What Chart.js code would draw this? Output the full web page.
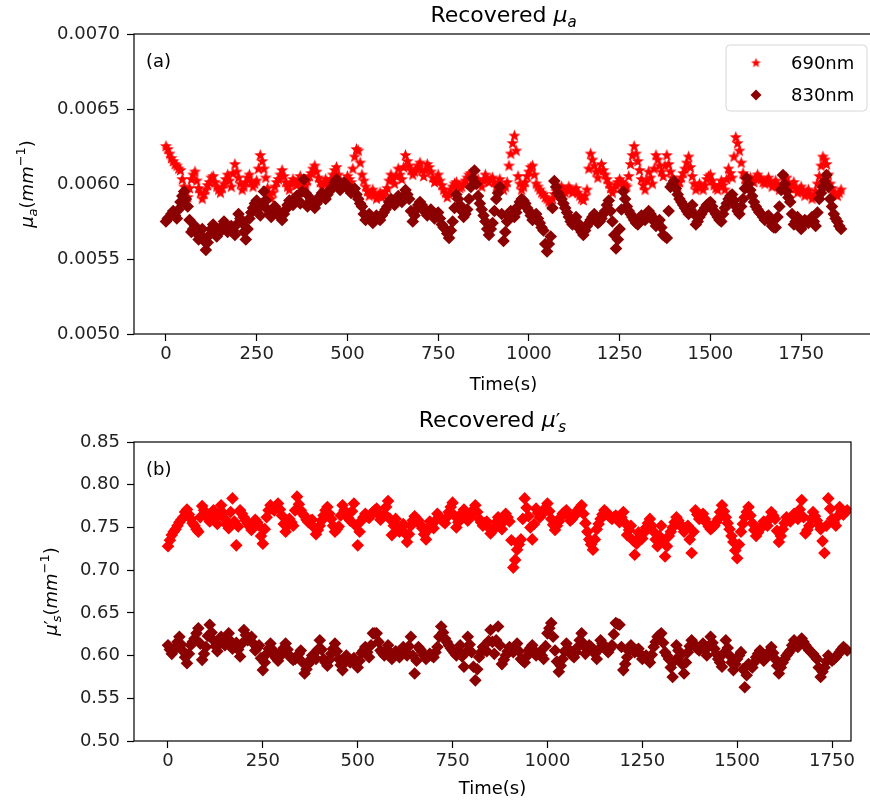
<!DOCTYPE html>
<html lang="en">
<head>
  <meta charset="UTF-8">
  <title>Recovered optical properties</title>
  <script src="https://cdn.jsdelivr.net/npm/chart.js"></script>
  <style>
    body { margin: 0; background: #fff; overflow: hidden; }
    #wrap { position: relative; width: 870px; height: 807px; overflow: hidden; }
    #topBox { position: absolute; left: 0; top: 0; }
    #botBox { position: absolute; left: 0; top: 400px; }
  </style>
</head>
<body>
  <div id="wrap">
    <div id="topBox"><canvas id="muaChart" width="880" height="400"></canvas></div>
    <div id="botBox"><canvas id="musChart" width="870" height="407"></canvas></div>
  </div>
  <script>
    // sample times (s)
    const timeS = [
      0, 5, 10, 15, 20, 25, 30, 35, 40, 45, 50, 55, 60, 65, 70, 75, 80, 85, 90, 95,
      100, 105, 110, 115, 120, 125, 130, 135, 140, 145, 150, 155, 160, 165, 170, 175, 180, 185, 190, 195,
      200, 205, 210, 215, 220, 225, 230, 235, 240, 245, 250, 255, 260, 265, 270, 275, 280, 285, 290, 295,
      300, 305, 310, 315, 320, 325, 330, 335, 340, 345, 350, 355, 360, 365, 370, 375, 380, 385, 390, 395,
      400, 405, 410, 415, 420, 425, 430, 435, 440, 445, 450, 455, 460, 465, 470, 475, 480, 485, 490, 495,
      500, 505, 510, 515, 520, 525, 530, 535, 540, 545, 550, 555, 560, 565, 570, 575, 580, 585, 590, 595,
      600, 605, 610, 615, 620, 625, 630, 635, 640, 645, 650, 655, 660, 665, 670, 675, 680, 685, 690, 695,
      700, 705, 710, 715, 720, 725, 730, 735, 740, 745, 750, 755, 760, 765, 770, 775, 780, 785, 790, 795,
      800, 805, 810, 815, 820, 825, 830, 835, 840, 845, 850, 855, 860, 865, 870, 875, 880, 885, 890, 895,
      900, 905, 910, 915, 920, 925, 930, 935, 940, 945, 950, 955, 960, 965, 970, 975, 980, 985, 990, 995,
      1000, 1005, 1010, 1015, 1020, 1025, 1030, 1035, 1040, 1045, 1050, 1055, 1060, 1065, 1070, 1075, 1080, 1085, 1090, 1095,
      1100, 1105, 1110, 1115, 1120, 1125, 1130, 1135, 1140, 1145, 1150, 1155, 1160, 1165, 1170, 1175, 1180, 1185, 1190, 1195,
      1200, 1205, 1210, 1215, 1220, 1225, 1230, 1235, 1240, 1245, 1250, 1255, 1260, 1265, 1270, 1275, 1280, 1285, 1290, 1295,
      1300, 1305, 1310, 1315, 1320, 1325, 1330, 1335, 1340, 1345, 1350, 1355, 1360, 1365, 1370, 1375, 1380, 1385, 1390, 1395,
      1400, 1405, 1410, 1415, 1420, 1425, 1430, 1435, 1440, 1445, 1450, 1455, 1460, 1465, 1470, 1475, 1480, 1485, 1490, 1495,
      1500, 1505, 1510, 1515, 1520, 1525, 1530, 1535, 1540, 1545, 1550, 1555, 1560, 1565, 1570, 1575, 1580, 1585, 1590, 1595,
      1600, 1605, 1610, 1615, 1620, 1625, 1630, 1635, 1640, 1645, 1650, 1655, 1660, 1665, 1670, 1675, 1680, 1685, 1690, 1695,
      1700, 1705, 1710, 1715, 1720, 1725, 1730, 1735, 1740, 1745, 1750, 1755, 1760, 1765, 1770, 1775, 1780, 1785, 1790, 1795,
      1800, 1805, 1810, 1815, 1820, 1825, 1830, 1835, 1840, 1845, 1850, 1855, 1860
    ];

    // (a) recovered mu_a (mm^-1), 0 .. 1860 s
    const mua690 = [
      0.00625, 0.00623, 0.00620, 0.00617, 0.00615, 0.00613, 0.00612, 0.00610, 0.00609, 0.00603, 0.00598, 0.00594, 0.00591, 0.00597, 0.00603, 0.00606, 0.00608, 0.00602, 0.00597, 0.00594,
      0.00590, 0.00593, 0.00596, 0.00599, 0.00601, 0.00604, 0.00605, 0.00601, 0.00598, 0.00596, 0.00594, 0.00597, 0.00600, 0.00603, 0.00606, 0.00602, 0.00598, 0.00607, 0.00613, 0.00608,
      0.00604, 0.00600, 0.00596, 0.00598, 0.00601, 0.00604, 0.00606, 0.00601, 0.00598, 0.00600, 0.00602, 0.00610, 0.00619, 0.00615, 0.00610, 0.00604, 0.00597, 0.00593, 0.00590, 0.00594,
      0.00598, 0.00601, 0.00603, 0.00606, 0.00609, 0.00605, 0.00601, 0.00598, 0.00596, 0.00600, 0.00603, 0.00601, 0.00599, 0.00602, 0.00605, 0.00600, 0.00597, 0.00599, 0.00602, 0.00605,
      0.00607, 0.00610, 0.00612, 0.00608, 0.00604, 0.00601, 0.00598, 0.00600, 0.00603, 0.00601, 0.00600, 0.00603, 0.00606, 0.00609, 0.00611, 0.00606, 0.00602, 0.00599, 0.00597, 0.00601,
      0.00605, 0.00603, 0.00601, 0.00610, 0.00618, 0.00623, 0.00622, 0.00614, 0.00606, 0.00602, 0.00598, 0.00595, 0.00592, 0.00594, 0.00596, 0.00593, 0.00590, 0.00592, 0.00594, 0.00591,
      0.00592, 0.00595, 0.00597, 0.00602, 0.00606, 0.00603, 0.00600, 0.00605, 0.00610, 0.00606, 0.00603, 0.00611, 0.00619, 0.00615, 0.00612, 0.00609, 0.00606, 0.00608, 0.00610, 0.00612,
      0.00614, 0.00609, 0.00605, 0.00609, 0.00613, 0.00611, 0.00608, 0.00604, 0.00601, 0.00603, 0.00606, 0.00602, 0.00599, 0.00596, 0.00594, 0.00591, 0.00593, 0.00596, 0.00598, 0.00600,
      0.00601, 0.00599, 0.00597, 0.00598, 0.00600, 0.00602, 0.00604, 0.00606, 0.00607, 0.00603, 0.00600, 0.00602, 0.00603, 0.00600, 0.00598, 0.00602, 0.00606, 0.00603, 0.00601, 0.00603,
      0.00604, 0.00601, 0.00598, 0.00600, 0.00603, 0.00599, 0.00596, 0.00598, 0.00601, 0.00612, 0.00620, 0.00627, 0.00632, 0.00622, 0.00605, 0.00600, 0.00596, 0.00598, 0.00601, 0.00605,
      0.00608, 0.00611, 0.00612, 0.00606, 0.00600, 0.00598, 0.00596, 0.00594, 0.00593, 0.00591, 0.00590, 0.00588, 0.00586, 0.00590, 0.00593, 0.00595, 0.00596, 0.00597, 0.00598, 0.00596,
      0.00594, 0.00596, 0.00598, 0.00596, 0.00594, 0.00595, 0.00597, 0.00594, 0.00592, 0.00590, 0.00589, 0.00592, 0.00596, 0.00610, 0.00620, 0.00616, 0.00612, 0.00608, 0.00604, 0.00609,
      0.00613, 0.00609, 0.00606, 0.00603, 0.00600, 0.00597, 0.00594, 0.00597, 0.00599, 0.00601, 0.00603, 0.00601, 0.00600, 0.00599, 0.00598, 0.00605, 0.00613, 0.00619, 0.00625, 0.00620,
      0.00615, 0.00609, 0.00603, 0.00599, 0.00596, 0.00602, 0.00608, 0.00604, 0.00600, 0.00610, 0.00619, 0.00616, 0.00612, 0.00608, 0.00605, 0.00612, 0.00619, 0.00613, 0.00608, 0.00604,
      0.00600, 0.00599, 0.00598, 0.00601, 0.00604, 0.00607, 0.00610, 0.00614, 0.00618, 0.00611, 0.00605, 0.00600, 0.00596, 0.00598, 0.00600, 0.00598, 0.00596, 0.00599, 0.00603, 0.00605,
      0.00606, 0.00602, 0.00599, 0.00597, 0.00596, 0.00599, 0.00602, 0.00599, 0.00596, 0.00603, 0.00610, 0.00607, 0.00604, 0.00618, 0.00631, 0.00627, 0.00622, 0.00614, 0.00607, 0.00603,
      0.00600, 0.00602, 0.00604, 0.00602, 0.00601, 0.00604, 0.00606, 0.00604, 0.00603, 0.00601, 0.00600, 0.00602, 0.00604, 0.00601, 0.00598, 0.00600, 0.00602, 0.00599, 0.00596, 0.00598,
      0.00600, 0.00602, 0.00604, 0.00600, 0.00597, 0.00599, 0.00601, 0.00597, 0.00594, 0.00596, 0.00598, 0.00595, 0.00592, 0.00594, 0.00596, 0.00593, 0.00590, 0.00592, 0.00595, 0.00600,
      0.00605, 0.00612, 0.00618, 0.00616, 0.00613, 0.00606, 0.00600, 0.00597, 0.00594, 0.00593, 0.00592, 0.00594, 0.00596
    ];
    const mua830 = [
      0.00575, 0.00577, 0.00578, 0.00580, 0.00582, 0.00579, 0.00577, 0.00583, 0.00588, 0.00592, 0.00595, 0.00590, 0.00585, 0.00576, 0.00568, 0.00570, 0.00572, 0.00567, 0.00563, 0.00566,
      0.00570, 0.00562, 0.00556, 0.00561, 0.00566, 0.00570, 0.00573, 0.00569, 0.00565, 0.00567, 0.00569, 0.00572, 0.00575, 0.00571, 0.00568, 0.00570, 0.00572, 0.00569, 0.00566, 0.00573,
      0.00580, 0.00577, 0.00574, 0.00568, 0.00563, 0.00570, 0.00577, 0.00581, 0.00584, 0.00587, 0.00589, 0.00584, 0.00579, 0.00587, 0.00595, 0.00589, 0.00583, 0.00580, 0.00578, 0.00582,
      0.00585, 0.00583, 0.00581, 0.00578, 0.00576, 0.00580, 0.00583, 0.00586, 0.00589, 0.00587, 0.00586, 0.00589, 0.00592, 0.00589, 0.00587, 0.00595, 0.00603, 0.00594, 0.00585, 0.00588,
      0.00590, 0.00587, 0.00584, 0.00587, 0.00589, 0.00592, 0.00594, 0.00592, 0.00590, 0.00593, 0.00595, 0.00597, 0.00598, 0.00601, 0.00603, 0.00599, 0.00596, 0.00598, 0.00601, 0.00600,
      0.00598, 0.00596, 0.00594, 0.00596, 0.00597, 0.00593, 0.00590, 0.00587, 0.00585, 0.00580, 0.00576, 0.00578, 0.00580, 0.00577, 0.00574, 0.00577, 0.00579, 0.00577, 0.00576, 0.00579,
      0.00581, 0.00583, 0.00585, 0.00588, 0.00590, 0.00588, 0.00586, 0.00589, 0.00592, 0.00590, 0.00588, 0.00592, 0.00596, 0.00593, 0.00590, 0.00582, 0.00575, 0.00579, 0.00583, 0.00586,
      0.00588, 0.00586, 0.00584, 0.00581, 0.00579, 0.00581, 0.00583, 0.00580, 0.00577, 0.00579, 0.00581, 0.00577, 0.00573, 0.00571, 0.00570, 0.00567, 0.00564, 0.00569, 0.00575, 0.00584,
      0.00593, 0.00590, 0.00586, 0.00582, 0.00578, 0.00580, 0.00583, 0.00590, 0.00598, 0.00604, 0.00609, 0.00600, 0.00592, 0.00587, 0.00583, 0.00579, 0.00575, 0.00570, 0.00566, 0.00570,
      0.00574, 0.00582, 0.00590, 0.00594, 0.00598, 0.00580, 0.00562, 0.00568, 0.00575, 0.00578, 0.00582, 0.00580, 0.00578, 0.00581, 0.00585, 0.00588, 0.00590, 0.00589, 0.00587, 0.00584,
      0.00582, 0.00579, 0.00576, 0.00578, 0.00580, 0.00577, 0.00574, 0.00571, 0.00569, 0.00560, 0.00555, 0.00560, 0.00565, 0.00584, 0.00602, 0.00598, 0.00594, 0.00592, 0.00590, 0.00587,
      0.00584, 0.00581, 0.00578, 0.00575, 0.00573, 0.00575, 0.00578, 0.00574, 0.00570, 0.00568, 0.00566, 0.00569, 0.00572, 0.00574, 0.00576, 0.00578, 0.00580, 0.00577, 0.00574, 0.00575,
      0.00577, 0.00580, 0.00582, 0.00586, 0.00589, 0.00582, 0.00575, 0.00566, 0.00557, 0.00563, 0.00570, 0.00583, 0.00595, 0.00590, 0.00585, 0.00582, 0.00580, 0.00578, 0.00576, 0.00574,
      0.00573, 0.00576, 0.00579, 0.00577, 0.00576, 0.00579, 0.00582, 0.00580, 0.00578, 0.00575, 0.00572, 0.00574, 0.00576, 0.00571, 0.00566, 0.00565, 0.00564, 0.00582, 0.00598, 0.00600,
      0.00602, 0.00597, 0.00593, 0.00590, 0.00588, 0.00586, 0.00584, 0.00582, 0.00580, 0.00583, 0.00586, 0.00580, 0.00573, 0.00575, 0.00578, 0.00580, 0.00582, 0.00584, 0.00586, 0.00587,
      0.00588, 0.00585, 0.00582, 0.00580, 0.00578, 0.00576, 0.00575, 0.00580, 0.00584, 0.00587, 0.00590, 0.00592, 0.00593, 0.00589, 0.00585, 0.00582, 0.00580, 0.00585, 0.00590, 0.00597,
      0.00604, 0.00600, 0.00596, 0.00592, 0.00588, 0.00585, 0.00583, 0.00581, 0.00580, 0.00578, 0.00576, 0.00578, 0.00579, 0.00575, 0.00572, 0.00571, 0.00571, 0.00578, 0.00585, 0.00596,
      0.00606, 0.00600, 0.00595, 0.00591, 0.00588, 0.00580, 0.00573, 0.00575, 0.00578, 0.00574, 0.00570, 0.00573, 0.00576, 0.00575, 0.00574, 0.00576, 0.00578, 0.00575, 0.00572, 0.00581,
      0.00590, 0.00594, 0.00598, 0.00602, 0.00606, 0.00598, 0.00590, 0.00585, 0.00580, 0.00577, 0.00575, 0.00572, 0.00570
    ];

    // (b) recovered mu_s' (mm^-1), 0 .. 1790 s
    const mus690 = [
      0.728, 0.735, 0.741, 0.745, 0.748, 0.752, 0.756, 0.759, 0.762, 0.768, 0.771, 0.765, 0.760, 0.755, 0.752, 0.748, 0.745, 0.762, 0.775, 0.770,
      0.766, 0.761, 0.757, 0.764, 0.770, 0.761, 0.754, 0.766, 0.776, 0.767, 0.760, 0.753, 0.749, 0.768, 0.784, 0.757, 0.729, 0.751, 0.770, 0.766,
      0.762, 0.758, 0.755, 0.751, 0.747, 0.753, 0.759, 0.756, 0.752, 0.740, 0.731, 0.748, 0.762, 0.770, 0.776, 0.772, 0.770, 0.775, 0.778, 0.771,
      0.764, 0.754, 0.745, 0.752, 0.760, 0.756, 0.752, 0.770, 0.786, 0.777, 0.770, 0.766, 0.763, 0.759, 0.756, 0.758, 0.759, 0.750, 0.742, 0.747,
      0.752, 0.758, 0.764, 0.770, 0.774, 0.766, 0.760, 0.752, 0.745, 0.748, 0.751, 0.764, 0.776, 0.770, 0.765, 0.761, 0.758, 0.769, 0.778, 0.752,
      0.729, 0.745, 0.758, 0.762, 0.766, 0.763, 0.761, 0.765, 0.768, 0.770, 0.772, 0.765, 0.759, 0.762, 0.766, 0.774, 0.781, 0.760, 0.741, 0.752,
      0.760, 0.752, 0.745, 0.750, 0.754, 0.743, 0.733, 0.742, 0.752, 0.758, 0.763, 0.760, 0.758, 0.753, 0.749, 0.742, 0.736, 0.747, 0.757, 0.753,
      0.749, 0.758, 0.766, 0.762, 0.759, 0.757, 0.755, 0.762, 0.768, 0.774, 0.779, 0.764, 0.750, 0.756, 0.762, 0.767, 0.771, 0.764, 0.758, 0.762,
      0.766, 0.771, 0.776, 0.768, 0.760, 0.756, 0.752, 0.755, 0.757, 0.750, 0.743, 0.746, 0.750, 0.756, 0.762, 0.755, 0.748, 0.757, 0.766, 0.762,
      0.757, 0.735, 0.703, 0.712, 0.724, 0.730, 0.736, 0.760, 0.784, 0.773, 0.763, 0.750, 0.736, 0.754, 0.772, 0.767, 0.762, 0.765, 0.768, 0.773,
      0.778, 0.769, 0.760, 0.753, 0.747, 0.752, 0.757, 0.762, 0.766, 0.768, 0.770, 0.764, 0.758, 0.760, 0.763, 0.767, 0.770, 0.773, 0.776, 0.766,
      0.755, 0.745, 0.736, 0.730, 0.724, 0.736, 0.748, 0.754, 0.760, 0.765, 0.770, 0.768, 0.765, 0.762, 0.760, 0.762, 0.764, 0.760, 0.756, 0.762,
      0.768, 0.755, 0.741, 0.747, 0.752, 0.735, 0.718, 0.731, 0.744, 0.740, 0.737, 0.744, 0.750, 0.755, 0.760, 0.752, 0.745, 0.736, 0.728, 0.740,
      0.752, 0.734, 0.716, 0.728, 0.740, 0.745, 0.750, 0.756, 0.762, 0.758, 0.754, 0.750, 0.745, 0.749, 0.752, 0.736, 0.720, 0.745, 0.770, 0.765,
      0.760, 0.763, 0.766, 0.760, 0.755, 0.751, 0.748, 0.750, 0.752, 0.756, 0.760, 0.768, 0.776, 0.769, 0.762, 0.755, 0.748, 0.740, 0.733, 0.723,
      0.714, 0.730, 0.745, 0.754, 0.762, 0.768, 0.774, 0.764, 0.755, 0.747, 0.740, 0.744, 0.748, 0.752, 0.757, 0.754, 0.752, 0.760, 0.768, 0.764,
      0.760, 0.746, 0.733, 0.740, 0.748, 0.755, 0.762, 0.759, 0.757, 0.762, 0.766, 0.763, 0.760, 0.771, 0.782, 0.762, 0.743, 0.747, 0.752, 0.760,
      0.768, 0.763, 0.758, 0.753, 0.748, 0.734, 0.720, 0.752, 0.784, 0.772, 0.760, 0.756, 0.752, 0.763, 0.774, 0.769, 0.765, 0.768, 0.770
    ];
    const mus830 = [
      0.612, 0.607, 0.602, 0.606, 0.610, 0.616, 0.622, 0.613, 0.605, 0.598, 0.591, 0.602, 0.612, 0.616, 0.620, 0.626, 0.632, 0.614, 0.595, 0.602,
      0.610, 0.623, 0.636, 0.627, 0.618, 0.611, 0.605, 0.613, 0.622, 0.617, 0.612, 0.619, 0.626, 0.617, 0.608, 0.611, 0.615, 0.607, 0.599, 0.614,
      0.630, 0.624, 0.618, 0.620, 0.622, 0.614, 0.606, 0.609, 0.612, 0.597, 0.583, 0.592, 0.602, 0.608, 0.614, 0.607, 0.600, 0.597, 0.594, 0.599,
      0.605, 0.609, 0.614, 0.607, 0.600, 0.597, 0.595, 0.596, 0.598, 0.602, 0.606, 0.592, 0.579, 0.584, 0.590, 0.595, 0.600, 0.598, 0.596, 0.607,
      0.618, 0.607, 0.596, 0.592, 0.588, 0.595, 0.602, 0.608, 0.614, 0.605, 0.596, 0.589, 0.583, 0.591, 0.600, 0.596, 0.592, 0.594, 0.597, 0.591,
      0.586, 0.594, 0.603, 0.606, 0.610, 0.604, 0.598, 0.612, 0.626, 0.626, 0.626, 0.616, 0.606, 0.603, 0.600, 0.606, 0.612, 0.604, 0.596, 0.600,
      0.605, 0.601, 0.598, 0.604, 0.610, 0.605, 0.600, 0.611, 0.622, 0.600, 0.579, 0.594, 0.610, 0.607, 0.604, 0.600, 0.596, 0.599, 0.602, 0.600,
      0.598, 0.604, 0.610, 0.622, 0.634, 0.627, 0.620, 0.616, 0.612, 0.609, 0.606, 0.603, 0.600, 0.606, 0.612, 0.599, 0.587, 0.604, 0.622, 0.613,
      0.604, 0.587, 0.571, 0.584, 0.598, 0.604, 0.610, 0.607, 0.605, 0.617, 0.630, 0.616, 0.602, 0.618, 0.634, 0.612, 0.590, 0.595, 0.600, 0.605,
      0.610, 0.607, 0.604, 0.609, 0.614, 0.605, 0.596, 0.594, 0.592, 0.599, 0.606, 0.609, 0.612, 0.606, 0.600, 0.602, 0.604, 0.600, 0.596, 0.611,
      0.626, 0.632, 0.638, 0.622, 0.606, 0.593, 0.581, 0.588, 0.596, 0.605, 0.614, 0.608, 0.603, 0.600, 0.598, 0.604, 0.610, 0.618, 0.626, 0.614,
      0.602, 0.607, 0.612, 0.610, 0.608, 0.602, 0.596, 0.607, 0.618, 0.614, 0.610, 0.607, 0.604, 0.608, 0.612, 0.625, 0.638, 0.637, 0.636, 0.610,
      0.583, 0.590, 0.598, 0.605, 0.612, 0.608, 0.604, 0.606, 0.608, 0.602, 0.596, 0.598, 0.600, 0.596, 0.592, 0.601, 0.610, 0.616, 0.622, 0.624,
      0.626, 0.615, 0.604, 0.600, 0.596, 0.586, 0.575, 0.594, 0.612, 0.606, 0.600, 0.590, 0.579, 0.592, 0.604, 0.611, 0.618, 0.614, 0.610, 0.608,
      0.606, 0.610, 0.614, 0.607, 0.600, 0.611, 0.622, 0.615, 0.608, 0.602, 0.596, 0.592, 0.587, 0.603, 0.618, 0.609, 0.600, 0.592, 0.583, 0.590,
      0.596, 0.600, 0.604, 0.584, 0.563, 0.577, 0.590, 0.588, 0.586, 0.592, 0.598, 0.602, 0.606, 0.600, 0.594, 0.597, 0.600, 0.605, 0.610, 0.603,
      0.596, 0.588, 0.579, 0.586, 0.592, 0.596, 0.600, 0.603, 0.606, 0.612, 0.618, 0.614, 0.610, 0.615, 0.620, 0.616, 0.612, 0.609, 0.606, 0.604,
      0.602, 0.599, 0.596, 0.586, 0.575, 0.581, 0.586, 0.593, 0.600, 0.597, 0.594, 0.596, 0.598, 0.601, 0.604, 0.607, 0.610, 0.608, 0.606
    ];

    const seriesNames = ['690nm', '830nm'];
    const timeTicks = [0, 250, 500, 750, 1000, 1250, 1500, 1750];
    const muaTicks = [0.0050, 0.0055, 0.0060, 0.0065, 0.0070];
    const musTicks = [0.50, 0.55, 0.60, 0.65, 0.70, 0.75, 0.80, 0.85];

    const RED = '#ff0000';
    const DARK = '#8b0000';
    const FAMILY = '"DejaVu Sans", sans-serif';
    const DIAMOND_R = 6.3;
    Chart.defaults.font.family = FAMILY;

    function pts(xs, ys) {
      return ys.map((y, i) => ({ x: xs[i], y: y }));
    }

    // filled 5-point star, like matplotlib '*'
    function makeStar(color, R) {
      const c = document.createElement('canvas');
      const s = Math.ceil(R * 2 + 2);
      c.width = s; c.height = s;
      const g = c.getContext('2d');
      const r = R * 0.42;
      g.beginPath();
      for (let k = 0; k < 10; k++) {
        const a = -Math.PI / 2 + k * Math.PI / 5;
        const rr = k % 2 ? r : R;
        g.lineTo(s / 2 + rr * Math.cos(a), s / 2 + rr * Math.sin(a));
      }
      g.closePath();
      g.fillStyle = color;
      g.fill();
      return c;
    }
    const starRed = makeStar(RED, 6.4);
    const starLegend = makeStar(RED, 5.2);

    function diamond(ctx, x, y, r, color) {
      ctx.beginPath();
      ctx.moveTo(x - r, y); ctx.lineTo(x, y - r); ctx.lineTo(x + r, y); ctx.lineTo(x, y + r);
      ctx.closePath();
      ctx.fillStyle = color; ctx.fill();
    }

    function fontOf(p) {
      return (p.i ? 'italic ' : '') + p.z + 'px ' + FAMILY;
    }

    // mixed italic / sub / superscript text, centred on cx, baseline at cy
    function drawRich(ctx, parts, cx, cy, rotate) {
      ctx.save();
      ctx.translate(cx, cy);
      if (rotate) ctx.rotate(-Math.PI / 2);
      ctx.textAlign = 'left';
      ctx.textBaseline = 'alphabetic';
      ctx.fillStyle = '#000';
      let w = 0;
      parts.forEach(p => { ctx.font = fontOf(p); w += ctx.measureText(p.t).width + (p.k || 0); });
      let x = -w / 2;
      parts.forEach(p => {
        ctx.font = fontOf(p);
        ctx.fillText(p.t, x, p.dy || 0);
        x += ctx.measureText(p.t).width + (p.k || 0);
      });
      ctx.restore();
    }

    const decor = {
      id: 'decor',
      afterDraw(chart, args, o) {
        const ctx = chart.ctx;
        const a = chart.chartArea;
        ctx.save();
        ctx.strokeStyle = '#000';
        ctx.lineWidth = 1.2;
        ctx.strokeRect(a.left, a.top, a.right - a.left, a.bottom - a.top);
        const mid = (a.left + a.right) / 2;
        drawRich(ctx, o.title, mid, o.titleY, false);
        drawRich(ctx, o.ylabel, o.ylabelX, (a.top + a.bottom) / 2, true);
        drawRich(ctx, [{ t: 'Time(s)', z: 18 }], mid, o.xlabelY, false);
        ctx.font = '18px ' + FAMILY;
        ctx.fillStyle = '#000';
        ctx.textAlign = 'left';
        ctx.textBaseline = 'middle';
        ctx.fillText(o.panel, a.left + 12, a.top + 28);
        if (o.legend) {
          const lx = 726, ly = 45, lw = 141, lh = 66, r = 4;
          ctx.beginPath();
          ctx.moveTo(lx + r, ly);
          ctx.arcTo(lx + lw, ly, lx + lw, ly + lh, r);
          ctx.arcTo(lx + lw, ly + lh, lx, ly + lh, r);
          ctx.arcTo(lx, ly + lh, lx, ly, r);
          ctx.arcTo(lx, ly, lx + lw, ly, r);
          ctx.closePath();
          ctx.fillStyle = 'rgba(255,255,255,0.8)';
          ctx.fill();
          ctx.strokeStyle = '#d6d6d6';
          ctx.lineWidth = 1;
          ctx.stroke();
          ctx.drawImage(starLegend, 756 - starLegend.width / 2, 63 - starLegend.height / 2);
          diamond(ctx, 756, 95, 5.5, DARK);
          ctx.fillStyle = '#000';
          ctx.font = '18px ' + FAMILY;
          ctx.fillText(seriesNames[0], 791, 64);
          ctx.fillText(seriesNames[1], 791, 96);
        }
        ctx.restore();
      }
    };

    function axisX(min, max, h) {
      return {
        type: 'linear', position: 'bottom', min: min, max: max,
        afterBuildTicks: s => { s.ticks = timeTicks.map(v => ({ value: v })); },
        afterFit: s => { s.height = h; },
        grid: { display: true, drawOnChartArea: false, drawTicks: true, tickLength: 7, tickWidth: 1.2, tickColor: '#000' },
        border: { display: false },
        ticks: { color: '#222', font: { size: 18 }, padding: 3, maxRotation: 0, autoSkip: false, callback: v => String(v) }
      };
    }
    function axisY(min, max, ticks, dec) {
      return {
        type: 'linear', position: 'left', min: min, max: max,
        afterBuildTicks: s => { s.ticks = ticks.map(v => ({ value: v })); },
        afterFit: s => { s.width = 134; },
        grid: { display: true, drawOnChartArea: false, drawTicks: true, tickLength: 7, tickWidth: 1.2, tickColor: '#000' },
        border: { display: false },
        ticks: { color: '#222', font: { size: 18 }, padding: 7, autoSkip: false, callback: v => Number(v).toFixed(dec) }
      };
    }

    const common = {
      responsive: false,
      animation: false,
      devicePixelRatio: 1,
      events: [],
      plugins: { legend: { display: false }, tooltip: { enabled: false } }
    };

    new Chart(document.getElementById('muaChart'), {
      type: 'scatter',
      data: {
        datasets: [
          { label: seriesNames[0], data: pts(timeS, mua690), pointStyle: starRed, pointRadius: 6,
            backgroundColor: RED, borderColor: RED, order: 2 },
          { label: seriesNames[1], data: pts(timeS, mua830), pointStyle: 'rectRot', pointRadius: DIAMOND_R, borderWidth: 0,
            backgroundColor: DARK, borderColor: DARK, order: 1 }
        ]
      },
      options: Object.assign({}, common, {
        layout: { padding: { top: 34, right: 5, left: 0, bottom: 0 } },
        plugins: Object.assign({}, common.plugins, {
          decor: {
            title: [{ t: 'Recovered ', z: 22 }, { t: 'μ', z: 22, i: true }, { t: 'a', z: 15, i: true, dy: 5 }],
            titleY: 22,
            ylabel: [{ t: 'μ', z: 18, i: true }, { t: 'a', z: 13, i: true, dy: 4 }, { t: '(', z: 18 },
                     { t: 'mm', z: 18, i: true }, { t: '−1', z: 13, dy: -8 }, { t: ')', z: 18 }],
            ylabelX: 33,
            xlabelY: 390,
            panel: '(a)',
            legend: true
          }
        }),
        scales: { x: axisX(-88, 1948, 66), y: axisY(0.005, 0.007, muaTicks, 4) }
      }),
      plugins: [decor]
    });

    new Chart(document.getElementById('musChart'), {
      type: 'scatter',
      data: {
        datasets: [
          { label: seriesNames[0], data: pts(timeS, mus690), pointStyle: 'rectRot', pointRadius: DIAMOND_R, borderWidth: 0,
            backgroundColor: RED, borderColor: RED, order: 2 },
          { label: seriesNames[1], data: pts(timeS, mus830), pointStyle: 'rectRot', pointRadius: DIAMOND_R, borderWidth: 0,
            backgroundColor: DARK, borderColor: DARK, order: 1 }
        ]
      },
      options: Object.assign({}, common, {
        layout: { padding: { top: 42, right: 19, left: 0, bottom: 0 } },
        plugins: Object.assign({}, common.plugins, {
          decor: {
            title: [{ t: 'Recovered ', z: 22 }, { t: 'μ', z: 22, i: true }, { t: '′', z: 20, k: -2 },
                    { t: 's', z: 15, i: true, dy: 5 }],
            titleY: 27,
            ylabel: [{ t: 'μ', z: 18, i: true }, { t: '′', z: 17, k: -2 }, { t: 's', z: 13, i: true, dy: 4 },
                     { t: '(', z: 18 }, { t: 'mm', z: 18, i: true }, { t: '−1', z: 13, dy: -8 }, { t: ')', z: 18 }],
            ylabelX: 57,
            xlabelY: 394,
            panel: '(b)',
            legend: false
          }
        }),
        scales: { x: axisX(-89.6, 1800, 66), y: axisY(0.5, 0.85, musTicks, 2) }
      }),
      plugins: [decor]
    });
  </script>
</body>
</html>
